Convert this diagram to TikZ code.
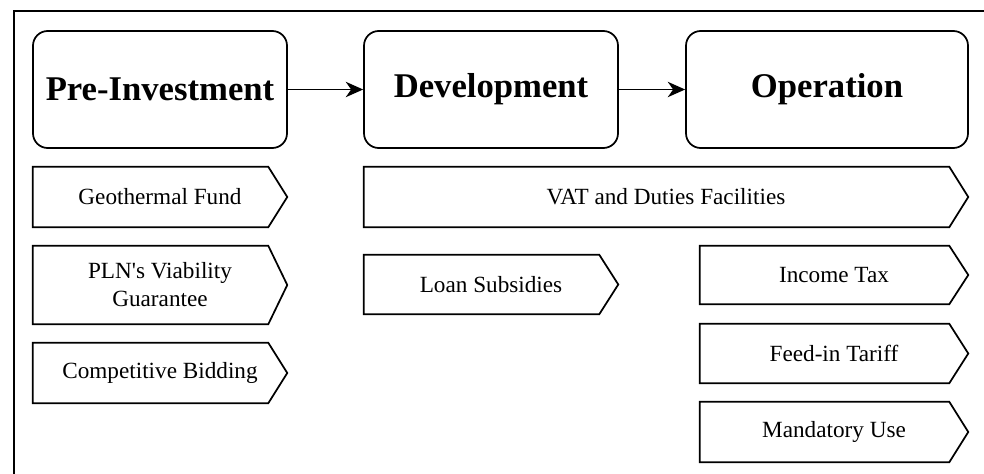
\documentclass[tikz,border=0pt]{standalone}
\usepackage{fontspec}
\newfontfamily\figfont{Liberation Serif}
\usepackage{tikz}
\usetikzlibrary{arrows.meta}

\tikzset{
  stage/.style={draw,line width=1.3pt,rounded corners=11pt,minimum height=87.75pt,
    font=\figfont\fontsize{26}{30}\selectfont\bfseries},
  policy/.style={inner sep=0pt,minimum height=45pt,align=center,
    font=\figfont\fontsize{17.4}{21}\selectfont},
  flow/.style={-{Stealth[length=13pt,width=11.5pt,inset=4pt]},line width=1.4pt}
}

\begin{document}
\begin{tikzpicture}[x=0.75pt,y=-0.75pt]
        \useasboundingbox (0,0) rectangle (984,474);
        % frame round the figure
        \draw[line width=1.1pt] (14,480) -- (14,11) -- (990,11);
        % stages
        \node[stage,minimum width=190.5pt] (preinv) at (160,89.5) {Pre-Investment};
        \node[stage,minimum width=190.5pt] (devel) at (491,89.5) {Development};
        \node[stage,minimum width=211.5pt] (oper) at (827,89.5) {Operation};
        \draw[flow] (preinv) -- (devel);
        \draw[flow] (devel) -- (oper);
        % policies
        \node[policy,minimum width=190.5pt] (geofund) at (160,197) {Geothermal Fund};
        \node[policy,minimum width=190.5pt,minimum height=58.5pt] (viability) at (160,285) {PLN's Viability\\Guarantee};
        \node[policy,minimum width=190.5pt] (bidding) at (160,373) {Competitive Bidding};
        \node[policy,minimum width=453pt] (vat) at (666,197) {VAT and Duties Facilities};
        \node[policy,minimum width=190.5pt,minimum height=44.25pt] (loan) at (491,284.5) {Loan Subsidies};
        \node[policy,minimum width=201pt,minimum height=43.5pt] (incometax) at (834,275) {Income Tax};
        \node[policy,minimum width=201pt,minimum height=44.25pt] (feedin) at (834,353.5) {Feed-in Tariff};
        \node[policy,minimum width=201pt] (mandatory) at (834,432) {Mandatory Use};
        \foreach \n in {geofund,viability,bidding,vat,loan,incometax,feedin,mandatory}
          \draw[line width=1.3pt,line join=miter] (\n.north west) -- ([xshift=-14.25pt]\n.north east)
            -- (\n.east) -- ([xshift=-14.25pt]\n.south east) -- (\n.south west) -- cycle;
      \end{tikzpicture}
\end{document}
